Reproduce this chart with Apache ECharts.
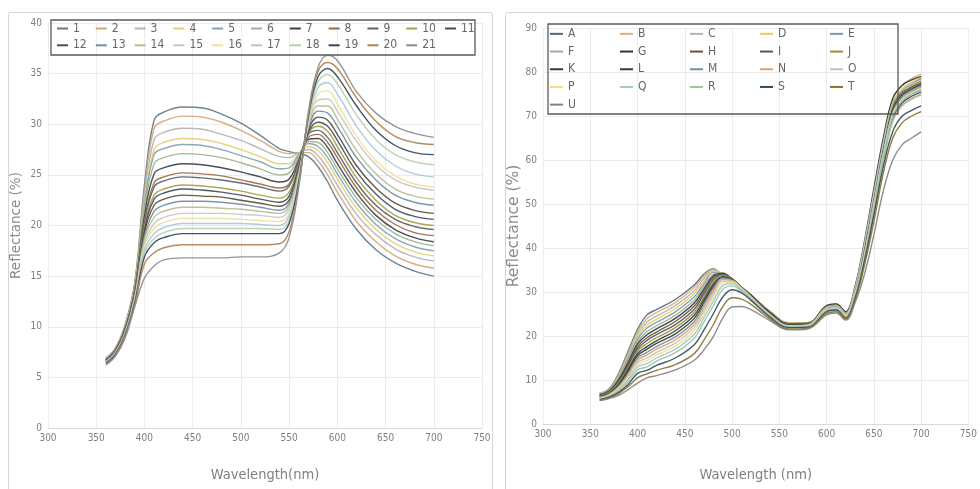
<!DOCTYPE html>
<html>
<head>
<meta charset="utf-8">
<script src="https://cdn.jsdelivr.net/npm/echarts@6/dist/echarts.min.js"></script>
<style>html,body{margin:0;padding:0;background:#fff}#c{width:980px;height:489px}</style>
</head>
<body>
<div id="c"></div>
<script>
// ---------- DATA ----------
const waveLeft = [360,370,380,390,400,410,420,440,460,480,500,520,540,550,560,570,580,590,600,620,640,660,680,700];
const waveRight = [360,370,380,390,400,410,420,440,460,470,480,490,500,510,520,540,560,580,600,610,620,630,640,650,660,670,680,690,700];
const labelsLeft = ['1','2','3','4','5','6','7','8','9','10','11','12','13','14','15','16','17','18','19','20','21'];
const labelsRight = ['A','B','C','D','E','F','G','H','I','J','K','L','M','N','O','P','Q','R','S','T','U'];
const colorsLeft = ['#63798a','#d2a679','#b3b3b3','#e6cf72','#7fa3b6','#9db38c','#3b4046','#9a6b4a','#5b6068','#a8a042','#3f4f5f','#5b4b3b','#6f8ea6','#b9bd8b','#c6c6c6','#eedf9f','#a9c8d8','#b6cfae','#304660','#b08050','#8c8c8c'];
const colorsRight = ['#4b6a80','#deae7e','#b3b3b3','#e6cd5e','#7b9bb0','#9bb192','#31373d','#6b5141','#515961','#9b9132','#2f3b49','#3b3b2b','#7191a1','#dfa06f','#c2c2c2','#efdf7f','#a1c7d0','#a1c1a1','#2f4b61','#8b7131','#828282'];

const L1  = [6.9,7.9,10.2,14.4,24.0,30.4,31.2,31.7,31.6,31.0,30.1,28.9,27.6,27.3,27.1,26.8,25.8,24.3,22.5,19.6,17.6,16.3,15.5,15.0];
const L2  = [6.9,7.9,10.1,14.2,23.4,29.6,30.3,30.8,30.7,30.2,29.4,28.4,27.3,27.1,27.2,27.2,26.4,25.0,23.3,20.4,18.4,17.0,16.2,15.8];
const L3  = [6.8,7.8,10.0,14.0,22.8,28.5,29.2,29.6,29.5,29.0,28.4,27.6,26.8,26.7,27.2,27.5,26.9,25.6,24.0,21.1,19.1,17.7,16.9,16.5];
const L4  = [6.8,7.8,9.9,13.9,22.2,27.5,28.2,28.6,28.5,28.1,27.5,26.8,26.1,26.1,27.1,27.8,27.4,26.2,24.6,21.7,19.6,18.2,17.4,17.0];
const L5  = [6.8,7.8,9.9,13.8,21.9,27.0,27.6,28.0,27.9,27.5,26.9,26.3,25.6,25.7,27.0,28.1,27.8,26.7,25.1,22.2,20.1,18.7,17.9,17.5];
const L6  = [6.7,7.7,9.8,13.7,21.4,26.1,26.7,27.1,27.0,26.7,26.2,25.6,25.0,25.2,26.8,28.3,28.2,27.2,25.6,22.7,20.6,19.2,18.4,18.0];
const L7  = [6.7,7.7,9.8,13.6,20.9,25.1,25.7,26.1,26.0,25.7,25.3,24.8,24.3,24.6,26.5,28.5,28.6,27.7,26.1,23.2,21.0,19.6,18.8,18.4];
const L8  = [6.7,7.7,9.7,13.5,20.4,24.2,24.8,25.2,25.1,24.9,24.5,24.1,23.7,24.1,26.3,28.7,29.0,28.2,26.7,23.7,21.5,20.1,19.3,19.0];
const L9  = [6.7,7.6,9.7,13.4,20.2,23.8,24.4,24.8,24.7,24.5,24.2,23.8,23.4,23.9,26.3,29.0,29.4,28.7,27.2,24.2,22.0,20.6,19.9,19.6];
const L10 = [6.6,7.6,9.6,13.3,19.8,23.0,23.6,24.0,23.9,23.7,23.4,23.0,22.7,23.3,26.0,29.1,29.8,29.3,27.8,24.7,22.5,21.0,20.3,20.0];
const L11 = [6.6,7.6,9.6,13.2,19.5,22.6,23.2,23.6,23.5,23.3,23.0,22.6,22.3,22.9,25.8,29.2,30.2,29.8,28.4,25.3,23.1,21.6,20.9,20.6];
const L12 = [6.6,7.5,9.5,13.1,19.2,22.0,22.6,23.0,22.9,22.8,22.5,22.2,21.9,22.5,25.6,29.4,30.7,30.4,29.0,25.9,23.7,22.2,21.5,21.2];
const L13 = [6.6,7.5,9.5,13.0,18.9,21.4,22.0,22.4,22.4,22.3,22.1,21.8,21.5,22.2,25.4,29.6,31.3,31.1,29.8,26.7,24.5,23.0,22.3,22.0];
const L14 = [6.5,7.5,9.4,12.9,18.6,20.8,21.4,21.8,21.8,21.7,21.6,21.4,21.2,21.9,25.2,29.8,31.8,31.8,30.5,27.4,25.1,23.6,22.9,22.6];
const L15 = [6.5,7.4,9.4,12.8,18.2,20.2,20.8,21.2,21.2,21.2,21.1,21.0,20.8,21.6,25.0,30.0,32.4,32.5,31.3,28.3,26.0,24.5,23.8,23.5];
const L16 = [6.5,7.4,9.3,12.7,17.9,19.7,20.3,20.7,20.7,20.7,20.6,20.5,20.4,21.2,24.8,30.2,33.0,33.3,32.0,28.8,26.4,24.9,24.1,23.8];
const L17 = [6.5,7.4,9.3,12.6,17.6,19.2,19.8,20.2,20.2,20.2,20.2,20.1,20.0,20.9,24.6,30.4,33.6,34.1,33.0,29.8,27.4,25.9,25.1,24.8];
const L18 = [6.4,7.3,9.2,12.5,17.3,18.7,19.3,19.7,19.7,19.7,19.7,19.7,19.6,20.5,24.4,30.6,34.2,34.9,34.0,30.9,28.5,27.0,26.3,26.0];
const L19 = [6.4,7.3,9.2,12.4,16.9,18.3,18.8,19.2,19.2,19.2,19.2,19.2,19.2,20.2,24.3,30.8,34.7,35.5,34.7,31.8,29.4,27.9,27.2,27.0];
const L20 = [6.3,7.2,9.1,12.2,16.2,17.3,17.8,18.1,18.1,18.1,18.1,18.1,18.2,19.4,24.0,31.0,35.2,36.1,35.5,32.6,30.3,28.8,28.2,28.0];
const L21 = [6.2,7.1,8.9,12.0,14.8,16.0,16.6,16.8,16.8,16.8,16.9,16.9,17.3,18.8,23.8,31.2,35.6,36.8,36.3,33.2,31.1,29.8,29.1,28.7];

const RA = [7.0,8.0,11.5,16.5,21.5,24.8,26.0,28.3,31.6,34.0,35.3,33.6,32.4,30.6,29.1,25.6,23.0,23.0,26.8,27.2,25.4,30.5,40.0,51.5,63.0,72.5,75.8,77.3,78.5];
const RB = [7.0,7.9,11.2,16.0,21.0,24.0,25.3,27.6,31.0,33.6,35.2,33.9,32.5,30.7,29.2,25.6,23.0,23.0,26.9,27.3,25.5,31.0,41.0,53.0,64.5,74.0,77.0,78.5,79.5];
const RC = [6.9,7.9,11.0,15.6,20.4,23.2,24.5,26.9,30.3,33.0,35.0,34.0,32.5,30.7,29.2,25.5,22.9,22.9,26.7,27.1,25.3,30.2,39.5,51.0,62.5,71.5,75.0,76.6,77.8];
const RD = [6.9,7.8,10.7,15.2,19.8,22.5,23.8,26.2,29.6,32.4,34.7,34.2,32.6,30.8,29.2,25.5,22.9,22.9,26.8,27.2,25.4,30.6,40.5,52.5,64.0,73.0,76.2,77.7,78.8];
const RE = [6.8,7.8,10.5,14.8,19.3,21.8,23.1,25.5,28.9,31.8,34.4,34.3,32.7,30.8,29.2,25.4,22.8,22.8,26.6,27.0,25.2,30.0,39.0,50.5,62.0,71.0,74.5,76.0,77.0];
const RF = [6.6,7.5,10.2,14.3,18.7,21.0,22.3,24.7,28.2,31.2,34.0,34.4,32.8,30.9,29.2,25.4,22.8,22.8,26.5,26.9,25.1,29.8,38.5,50.0,61.5,70.5,74.0,75.5,76.5];
const RG = [6.6,7.5,10.0,13.9,18.2,20.3,21.6,24.0,27.5,30.6,33.6,34.2,32.9,31.0,29.3,25.4,22.8,22.9,26.9,27.3,25.5,31.2,41.5,53.5,65.0,74.0,77.0,78.2,79.0];
const RH = [6.5,7.4,9.8,13.5,17.6,19.6,20.9,23.3,26.8,30.0,33.2,34.1,33.0,31.0,29.3,25.3,22.7,22.8,26.6,27.0,25.2,30.3,40.0,51.5,63.0,72.0,75.3,76.6,77.5];
const RI = [6.5,7.3,9.6,13.1,17.1,19.0,20.3,22.6,26.1,29.4,32.7,34.0,33.0,31.1,29.3,25.3,22.7,22.7,26.4,26.8,25.0,29.6,38.5,49.5,61.0,70.0,73.5,75.0,76.0];
const RJ = [6.4,7.2,9.4,12.7,16.6,18.3,19.6,21.9,25.4,28.8,32.2,33.8,33.0,31.1,29.3,25.2,22.6,22.7,26.6,27.0,25.2,30.5,40.5,52.0,63.5,72.5,75.8,77.1,78.0];
const RK = [6.2,6.9,9.0,12.3,16.0,17.6,18.9,21.2,24.7,28.2,31.7,33.5,32.9,31.1,29.2,25.2,22.5,22.5,26.2,26.6,24.8,29.4,38.0,49.0,60.5,69.5,73.0,74.5,75.5];
const RL = [6.2,6.9,8.8,11.9,15.5,17.0,18.3,20.5,24.0,27.6,31.2,33.3,32.8,31.0,29.1,25.1,22.5,22.6,26.4,26.8,25.0,30.0,39.5,51.0,62.5,71.5,74.8,76.2,77.2];
const RM = [6.1,6.8,8.6,11.5,15.0,16.3,17.6,19.8,23.3,27.0,30.6,33.2,32.7,31.0,29.0,25.0,22.4,22.5,26.3,26.7,24.9,29.8,39.0,50.5,62.0,71.0,74.4,75.8,76.8];
const RN = [6.0,6.7,8.4,11.2,14.5,15.7,17.0,19.1,22.6,26.3,30.0,32.9,32.6,30.9,28.9,24.9,22.3,22.4,26.0,26.4,24.6,29.2,37.5,48.5,60.0,69.0,72.5,74.0,75.0];
const RO = [5.9,6.6,8.2,10.8,14.0,15.0,16.3,18.4,21.9,25.6,29.3,32.5,32.5,30.8,28.8,24.8,22.3,22.5,26.5,26.9,25.1,30.8,41.0,52.5,64.0,73.0,76.0,77.3,78.2];
const RP = [5.8,6.5,8.0,10.5,13.5,14.4,15.7,17.7,21.2,24.9,28.6,32.0,32.2,30.7,28.7,24.7,22.2,22.3,26.1,26.5,24.7,29.5,38.5,50.0,61.5,70.5,73.8,75.2,76.2];
const RQ = [5.7,6.4,7.8,10.1,13.0,13.7,15.0,17.0,20.4,24.1,27.8,31.4,31.9,30.5,28.6,24.6,22.1,22.2,25.9,26.3,24.5,29.3,38.0,49.5,61.0,70.0,73.4,74.8,75.8];
const RR = [5.6,6.2,7.5,9.6,12.3,13.0,14.3,16.2,19.5,23.1,26.8,30.6,31.4,30.2,28.4,24.5,22.0,22.1,25.7,26.1,24.3,28.8,37.0,48.0,59.5,68.8,72.3,73.8,74.8];
const RS = [5.5,6.1,7.2,9.0,11.5,12.2,13.3,15.0,18.0,21.3,25.0,28.8,30.5,29.8,28.1,24.3,21.9,22.0,25.5,25.9,24.1,28.5,37.0,47.5,58.5,66.5,70.0,71.3,72.3];
const RT = [5.4,5.9,6.9,8.5,10.5,11.4,12.2,13.5,16.0,19.0,22.5,26.6,28.7,28.4,27.2,23.9,21.6,21.8,25.1,25.5,23.8,28.0,36.0,46.0,57.0,65.0,68.5,70.0,71.0];
const RU = [5.3,5.8,6.5,7.8,9.3,10.5,11.0,12.3,14.5,16.8,19.8,24.0,26.6,26.7,26.0,23.5,21.4,21.6,24.8,25.2,23.6,27.5,34.0,43.0,53.0,60.0,63.5,65.0,66.4];

const xTicks = [300,350,400,450,500,550,600,650,700,750];
const yTicksLeft = [0,5,10,15,20,25,30,35,40];
const yTicksRight = [0,10,20,30,40,50,60,70,80,90];

const valuesLeft = [L1,L2,L3,L4,L5,L6,L7,L8,L9,L10,L11,L12,L13,L14,L15,L16,L17,L18,L19,L20,L21];
const valuesRight = [RA,RB,RC,RD,RE,RF,RG,RH,RI,RJ,RK,RL,RM,RN,RO,RP,RQ,RR,RS,RT,RU];

// ---------- CHART ----------
const NARROW = "'Liberation Sans Narrow','DejaVu Sans Condensed','Open Sans',sans-serif";
const GREY = '#7f7f7f';

function mkSeries(names, values, colors, wave, idx) {
  return names.map((n, i) => ({
    name: n, type: 'line', xAxisIndex: idx, yAxisIndex: idx,
    data: wave.map((w, j) => [w, values[i][j]]),
    symbol: 'none', smooth: 0.4,
    color: colors[i],
    lineStyle: { width: 1.4, color: colors[i], opacity: 0.92 },
    emphasis: { disabled: true }, silent: true, animation: false
  }));
}

function xAxisCfg(idx, name, gap) {
  return {
    type: 'value', gridIndex: idx, min: 300, max: 750, interval: 50,
    name: name, nameLocation: 'middle', nameGap: gap,
    nameTextStyle: { fontFamily: NARROW, fontSize: 14.5, color: GREY },
    axisLine: { show: true, lineStyle: { color: '#d9d9d9', width: 1 } },
    axisTick: { show: false },
    axisLabel: { fontFamily: NARROW, fontSize: 10, color: GREY, margin: 5,
      formatter: v => xTicks.includes(v) ? String(v) : '' },
    splitLine: { show: true, lineStyle: { color: '#ececec', width: 1 } }
  };
}

function yAxisCfg(idx, max, interval, ticks, gap, fs) {
  return {
    type: 'value', gridIndex: idx, min: 0, max: max, interval: interval,
    name: 'Reflectance (%)', nameLocation: 'middle', nameGap: gap,
    nameTextStyle: { fontFamily: "'DejaVu Sans',sans-serif", fontSize: fs, color: '#8c8c8c' },
    axisLine: { show: false }, axisTick: { show: false },
    axisLabel: { fontFamily: NARROW, fontSize: 10, color: GREY, margin: 6,
      formatter: v => ticks.includes(v) ? String(v) : '' },
    splitLine: { show: true, lineStyle: { color: '#ececec', width: 1 } }
  };
}

const chart = echarts.init(document.getElementById('c'), null, { renderer: 'canvas', width: 980, height: 489 });
chart.setOption({
  animation: false,
  backgroundColor: '#ffffff',
  grid: [
    { left: 48, top: 23, width: 434, height: 405 },
    { left: 543, top: 28, width: 435, height: 396 }
  ],
  xAxis: [xAxisCfg(0, 'Wavelength(nm)', 40), xAxisCfg(1, 'Wavelength (nm)', 44)],
  yAxis: [yAxisCfg(0, 40, 5, yTicksLeft, 25, 13.5), yAxisCfg(1, 90, 10, yTicksRight, 20, 15.5)],
  legend: [
    { data: labelsLeft, left: 57, top: 21, width: 440, padding: 0,
      itemWidth: 11, itemHeight: 2, itemGap: 1.8, icon: 'rect', selectedMode: false,
      textStyle: { fontFamily: NARROW, fontSize: 12, color: '#666', width: 21, lineHeight: 15 } },
    { data: labelsRight, left: 550, top: 26, width: 352, padding: 0,
      itemWidth: 13, itemHeight: 2, itemGap: 2, icon: 'rect', selectedMode: false,
      textStyle: { fontFamily: NARROW, fontSize: 12, color: '#666', width: 50, lineHeight: 15.7 } }
  ],
  graphic: [
    { type: 'rect', shape: { x: 8.5, y: 12.5, width: 484, height: 500, r: 2 }, style: { fill: 'none', stroke: '#d4d4d4', lineWidth: 1 }, silent: true, z: -10 },
    { type: 'rect', shape: { x: 505.5, y: 12.5, width: 500, height: 500, r: 2 }, style: { fill: 'none', stroke: '#d4d4d4', lineWidth: 1 }, silent: true, z: -10 },
    { type: 'rect', shape: { x: 51, y: 20, width: 424, height: 35 }, style: { fill: 'none', stroke: '#5a5a5a', lineWidth: 1.3 }, silent: true, z: 10 },
    { type: 'rect', shape: { x: 548, y: 24, width: 350, height: 90 }, style: { fill: 'none', stroke: '#5a5a5a', lineWidth: 1.3 }, silent: true, z: 10 }
  ],
  series: mkSeries(labelsLeft, valuesLeft, colorsLeft, waveLeft, 0)
    .concat(mkSeries(labelsRight, valuesRight, colorsRight, waveRight, 1))
});
</script>
</body>
</html>
